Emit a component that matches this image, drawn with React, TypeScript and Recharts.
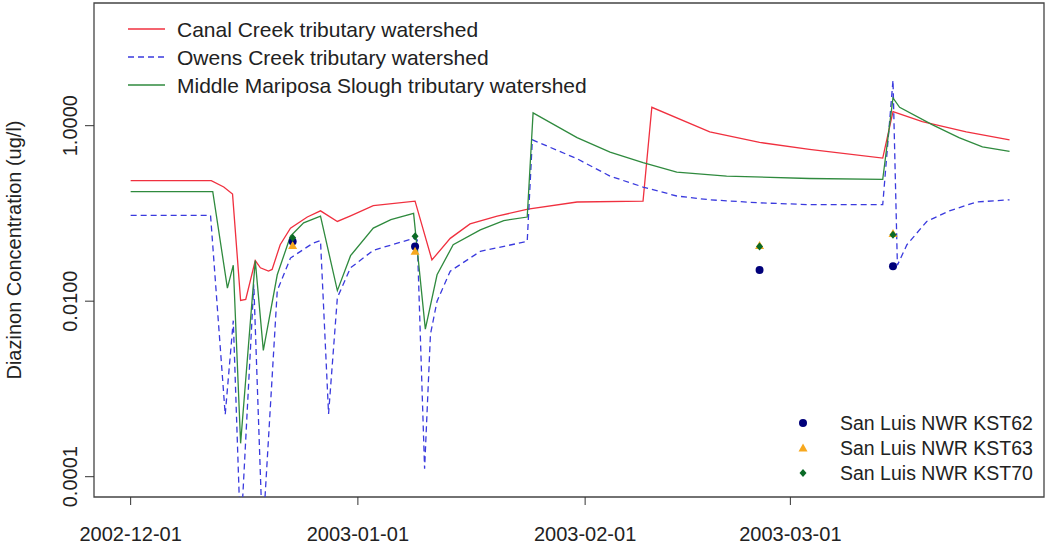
import React from 'react';
import { ComposedChart, Line, Scatter, XAxis, YAxis, ReferenceArea } from 'recharts';

document.body.style.margin = '0';

const FONT = '"Liberation Sans", Arial, sans-serif';

// x axis: days since 2002-12-01
const tickDays = [0, 31, 62, 90];
const tickLabels = ['2002-12-01', '2003-01-01', '2003-02-01', '2003-03-01'];
const yTicks = [0.0001, 0.01, 1];
const yTickLabels = ['0.0001', '0.0100', '1.0000'];

// modelled concentrations (ug/l)
const canalDays = [0, 11, 12.7, 13.9, 15, 15.7, 17, 17.7, 18.8, 19.3, 20.4, 21.8, 24.1, 25.9, 28.2, 30, 33.1, 38.8, 41.1, 43.6, 46.3, 50, 54.2, 60.9, 69.9, 71.1, 79, 85.8, 92.6, 102.6, 104, 108, 114, 119.9];
const canalConc = [0.236, 0.236, 0.2, 0.166, 0.0102, 0.0105, 0.029, 0.024, 0.022, 0.023, 0.044, 0.068, 0.091, 0.107, 0.081, 0.094, 0.123, 0.138, 0.0295, 0.052, 0.076, 0.093, 0.112, 0.135, 0.138, 1.62, 0.85, 0.645, 0.537, 0.427, 1.45, 1.11, 0.85, 0.69];

const owensDays = [0, 10.9, 12.9, 14, 15, 16.8, 18, 20, 21.8, 24.9, 25.9, 27, 28.2, 30, 33.1, 38.6, 39.1, 40.1, 40.9, 41.8, 43.6, 47.7, 54.1, 54.8, 60.9, 65.4, 69.9, 74.5, 79, 85.8, 92.6, 102.6, 104, 104.6, 105.9, 108.6, 111.7, 115.4, 119.9];
const owensConc = [0.095, 0.095, 0.00051, 0.006, 0.00002, 0.0155, 0.00002, 0.0132, 0.031, 0.046, 0.049, 0.00052, 0.011, 0.024, 0.038, 0.052, 0.05, 0.000123, 0.0042, 0.01, 0.022, 0.037, 0.048, 0.69, 0.42, 0.266, 0.2, 0.158, 0.143, 0.132, 0.126, 0.126, 3.3, 0.0257, 0.044, 0.081, 0.107, 0.135, 0.143];

const middleDays = [0, 11.2, 13.2, 14, 15, 17, 18.1, 20, 21.8, 23.6, 25.9, 28.2, 30, 33.1, 35.5, 38.6, 40.2, 41.8, 44, 47.7, 50.9, 54.1, 54.9, 60.9, 65.4, 69.9, 74.5, 81.3, 92.6, 102.6, 104, 104.9, 109.4, 113, 116.2, 119.9];
const middleConc = [0.177, 0.177, 0.0141, 0.0257, 0.00024, 0.029, 0.00275, 0.02, 0.055, 0.078, 0.093, 0.0132, 0.033, 0.068, 0.085, 0.1, 0.0048, 0.02, 0.044, 0.065, 0.083, 0.091, 1.4, 0.73, 0.5, 0.38, 0.295, 0.266, 0.25, 0.245, 2.07, 1.62, 1.02, 0.73, 0.575, 0.51];

// observed samples
const obsDays = [22.1, 38.8, 85.8, 104];
const kst62 = [0.048, 0.042, 0.0226, 0.025];
const kst63 = [0.043, 0.037, 0.043, 0.059];
const kst70 = [0.053, 0.055, 0.042, 0.057];

const X_DOMAIN: [number, number] = [-5, 124.6];
const Y_DOMAIN: [number, number] = [5.87e-5, 25];

const RED = '#f0303f';
const BLUE = '#3a3ade';
const GREEN = '#2f8a3e';
const NAVY = '#00007a';
const ORANGE = '#f7a81e';
const DKGREEN = '#0b6a26';

const toPoints = (days: number[], conc: number[]) =>
  days.map((day, i) => ({ day, conc: conc[i] }));

const canal = toPoints(canalDays, canalConc);
const owens = toPoints(owensDays, owensConc);
const middle = toPoints(middleDays, middleConc);
const obs62 = toPoints(obsDays, kst62);
const obs63 = toPoints(obsDays, kst63);
const obs70 = toPoints(obsDays, kst70);

const XTick = (props: any) => {
  const { x, y, payload } = props;
  const label = tickLabels[tickDays.indexOf(payload.value)];
  return (
    <text x={x} y={y + 34} textAnchor="middle" fontSize={20} fill="#222" fontFamily={FONT}>
      {label}
    </text>
  );
};

const YTick = (props: any) => {
  const { x, y, payload } = props;
  const label = yTickLabels[yTicks.indexOf(payload.value)];
  const cx = x - 13;
  return (
    <text
      x={cx}
      y={y}
      transform={`rotate(-90, ${cx}, ${y})`}
      textAnchor="middle"
      dominantBaseline="central"
      fontSize={20}
      fill="#222"
      fontFamily={FONT}
    >
      {label}
    </text>
  );
};

const Circle = (p: any) => <circle cx={p.cx} cy={p.cy} r={4} fill={NAVY} />;
const Triangle = (p: any) => (
  <polygon
    points={`${p.cx},${p.cy - 4.5} ${p.cx - 4.5},${p.cy + 3.5} ${p.cx + 4.5},${p.cy + 3.5}`}
    fill={ORANGE}
  />
);
const Diamond = (p: any) => (
  <polygon
    points={`${p.cx},${p.cy - 4} ${p.cx - 3.5},${p.cy} ${p.cx},${p.cy + 4} ${p.cx + 3.5},${p.cy}`}
    fill={DKGREEN}
  />
);

const lineLegend = [
  { label: 'Canal Creek tributary watershed', color: RED, dash: undefined },
  { label: 'Owens Creek tributary watershed', color: BLUE, dash: '6 4' },
  { label: 'Middle Mariposa Slough tributary watershed', color: GREEN, dash: undefined },
];

const pointLegend = [
  { label: 'San Luis NWR KST62', Shape: Circle },
  { label: 'San Luis NWR KST63', Shape: Triangle },
  { label: 'San Luis NWR KST70', Shape: Diamond },
];

export default function App() {
  return (
    <div style={{ position: 'relative', width: 1050, height: 551, background: '#fff' }}>
      <ComposedChart width={1050} height={551} margin={{ top: 3, right: 6, bottom: 0, left: 0 }}>
        <XAxis
          dataKey="day"
          type="number"
          domain={X_DOMAIN}
          allowDataOverflow
          ticks={tickDays}
          tick={<XTick />}
          tickSize={8}
          tickLine={{ stroke: '#333' }}
          axisLine={false}
          height={54}
        />
        <YAxis
          type="number"
          scale="log"
          domain={Y_DOMAIN}
          allowDataOverflow
          ticks={yTicks}
          tick={<YTick />}
          tickSize={9}
          tickLine={{ stroke: '#333' }}
          axisLine={false}
          width={94}
        />
        <ReferenceArea
          x1={X_DOMAIN[0]}
          x2={X_DOMAIN[1]}
          y1={Y_DOMAIN[0]}
          y2={Y_DOMAIN[1]}
          fill="none"
          fillOpacity={0}
          stroke="#444"
          strokeWidth={1.3}
          ifOverflow="visible"
        />
        <Line data={canal} dataKey="conc" type="linear" stroke={RED} strokeWidth={1.3} dot={false} isAnimationActive={false} />
        <Line data={owens} dataKey="conc" type="linear" stroke={BLUE} strokeWidth={1.3} strokeDasharray="6 4" dot={false} isAnimationActive={false} />
        <Line data={middle} dataKey="conc" type="linear" stroke={GREEN} strokeWidth={1.3} dot={false} isAnimationActive={false} />
        <Scatter data={obs62} dataKey="conc" shape={<Circle />} isAnimationActive={false} />
        <Scatter data={obs63} dataKey="conc" shape={<Triangle />} isAnimationActive={false} />
        <Scatter data={obs70} dataKey="conc" shape={<Diamond />} isAnimationActive={false} />
      </ComposedChart>
      <svg
        width={1050}
        height={551}
        style={{ position: 'absolute', left: 0, top: 0, pointerEvents: 'none' }}
        fontFamily={FONT}
      >
        <text
          x={14}
          y={250}
          transform="rotate(-90, 14, 250)"
          textAnchor="middle"
          dominantBaseline="central"
          fontSize={20}
          fill="#222"
        >
          Diazinon Concentration (ug/l)
        </text>
        {lineLegend.map((item, i) => (
          <g key={item.label}>
            <line x1={128} x2={165} y1={29 + i * 28} y2={29 + i * 28} stroke={item.color} strokeWidth={1.3} strokeDasharray={item.dash} />
            <text x={177} y={29 + i * 28} dominantBaseline="central" fontSize={21} fill="#222">
              {item.label}
            </text>
          </g>
        ))}
        {pointLegend.map((item, i) => (
          <g key={item.label}>
            <item.Shape cx={803} cy={423 + i * 25} />
            <text x={840} y={423 + i * 25} dominantBaseline="central" fontSize={19.5} fill="#222">
              {item.label}
            </text>
          </g>
        ))}
      </svg>
    </div>
  );
}
